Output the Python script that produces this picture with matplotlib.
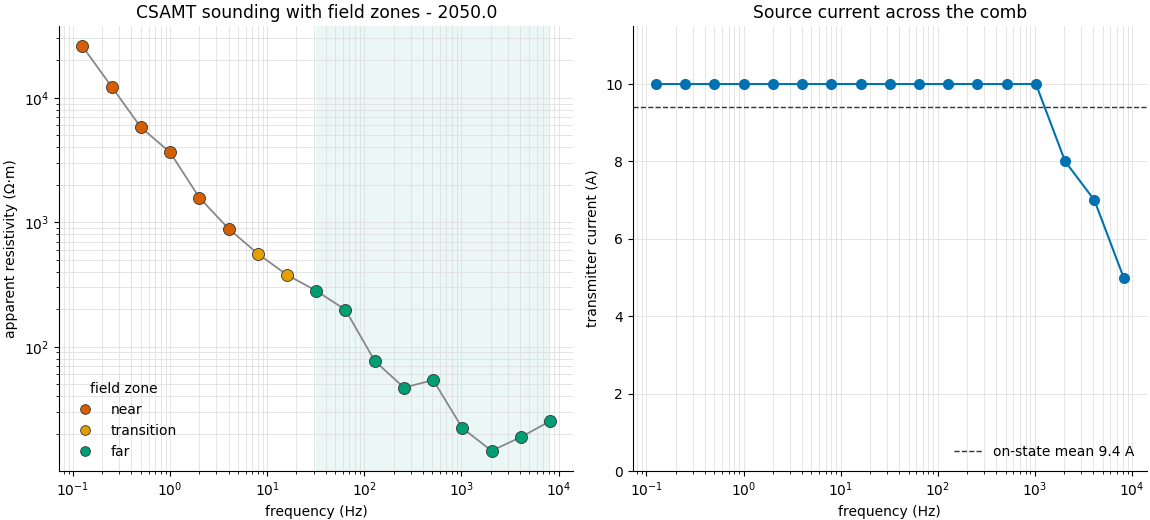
import numpy as np
import matplotlib.pyplot as plt
from matplotlib.lines import Line2D

# data
freq = [0.125, 0.25, 0.5, 1, 2, 4, 8, 16, 32, 64, 128, 256, 512, 1024, 2048, 4096, 8192]
rho_app = [26000, 12300, 5800, 3650, 1580, 890, 560, 378, 282, 198, 77, 47, 54, 22.2, 14.6, 18.8, 25.3]
zone = ['near'] * 6 + ['transition'] * 2 + ['far'] * 9
current = [10, 10, 10, 10, 10, 10, 10, 10, 10, 10, 10, 10, 10, 10, 8, 7, 5]

zone_colors = {'near': '#D55E00', 'transition': '#E69F00', 'far': '#009E73'}

fig, (ax1, ax2) = plt.subplots(1, 2, figsize=(11.5, 5.2), dpi=100)

# left: sounding curve
ax1.plot(freq, rho_app, color='#888888', lw=1.3, zorder=2)
for z in ['near', 'transition', 'far']:
    fx = [f for f, zz in zip(freq, zone) if zz == z]
    ry = [r for r, zz in zip(rho_app, zone) if zz == z]
    ax1.scatter(fx, ry, s=75, color=zone_colors[z], edgecolor='#333333', linewidth=0.6, zorder=3)
far_f = [f for f, zz in zip(freq, zone) if zz == 'far']
ax1.axvspan(min(far_f), max(far_f), color='#009E73', alpha=0.08, lw=0, zorder=0)
ax1.set_xscale('log')
ax1.set_yscale('log')
ax1.grid(True, which='both', color='#e0e0e0', lw=0.6)
ax1.set_xlabel('frequency (Hz)')
ax1.set_ylabel('apparent resistivity (Ω·m)')
ax1.set_title('CSAMT sounding with field zones - 2050.0', fontsize=12.3)
handles = [Line2D([], [], marker='o', ls='', markersize=7, markerfacecolor=zone_colors[z],
                  markeredgecolor='#333333', markeredgewidth=0.6, label=z)
           for z in ['near', 'transition', 'far']]
ax1.legend(handles=handles, title='field zone', loc='lower left', frameon=False)

# right: source current
ax2.plot(freq, current, color='#0072B2', marker='o', markersize=7, lw=1.5)
on_mean = np.mean(current)
ax2.axhline(on_mean, color='#333333', ls='--', lw=1, label=f'on-state mean {on_mean:.1f} A')
ax2.set_xscale('log')
ax2.set_ylim(0, 11.5)
ax2.grid(True, which='both', color='#e0e0e0', lw=0.6)
ax2.set_xlabel('frequency (Hz)')
ax2.set_ylabel('transmitter current (A)')
ax2.set_title('Source current across the comb', fontsize=12.3)
ax2.legend(loc='lower right', frameon=False)

for ax in (ax1, ax2):
    ax.spines['top'].set_visible(False)
    ax.spines['right'].set_visible(False)

plt.subplots_adjust(left=0.0513, right=0.9974, top=0.95, bottom=0.0942, wspace=0.1147)
plt.savefig('out.png')
